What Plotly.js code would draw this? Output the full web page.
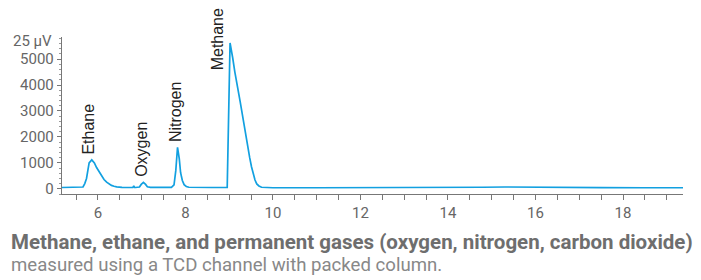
<!DOCTYPE html>
<html>
<head>
<meta charset="utf-8">
<script src="https://cdn.plot.ly/plotly-3.0.1.min.js"></script>
<style>html,body{margin:0;padding:0;background:#fff;}#chart{width:701px;height:280px;}</style>
</head>
<body>
<div id="chart"></div>
<script>
// Retention time (min)
const timeMin = [5.18, 5.60, 5.66, 5.70, 5.74, 5.77, 5.80, 5.86, 5.92, 5.97, 6.03, 6.08, 6.14, 6.20, 6.26, 6.31, 6.37, 6.43, 6.55, 6.70,
  6.80, 6.82, 6.84, 6.86, 6.95, 6.99, 7.04, 7.09, 7.13, 7.20, 7.50, 7.68, 7.74, 7.78, 7.82, 7.86, 7.89, 7.93, 7.97, 8.02,
  8.08, 8.30, 8.60, 8.955, 8.99, 9.02, 9.08, 9.13, 9.25, 9.36, 9.47, 9.51, 9.55, 9.59, 9.63, 9.68, 9.74, 9.85, 10.0, 11.0,
  12.0, 13.0, 14.0, 14.8, 15.3, 15.8, 16.5, 17.5, 18.5, 19.37];
// Detector signal (x 25 µV)
const signal = [50, 50, 70, 200, 400, 700, 1000, 1115, 1000, 820, 640, 490, 360, 255, 180, 130, 100, 75, 55, 50,
  50, 110, 50, 50, 70, 170, 250, 170, 80, 55, 50, 55, 150, 700, 1600, 1150, 620, 320, 160, 90,
  60, 50, 50, 50, 3000, 5620, 5050, 4500, 3370, 2215, 1190, 850, 550, 340, 190, 110, 60, 45, 40, 40,
  40, 40, 45, 60, 70, 60, 50, 45, 40, 40];
// Peak names and where their labels sit (data coordinates)
const peakNames = ["Ethane", "Oxygen", "Nitrogen", "Methane"];
const peakLabelTime = [5.79, 7.00, 7.76, 8.74];
const peakLabelSignal = [1250, 390, 1720, 4480];

const yTickVals = [0, 1000, 2000, 3000, 4000, 5000];
const unitLabel = "25 µV";
const captionTitle = "Methane, ethane, and permanent gases (oxygen, nitrogen, carbon dioxide)";
const captionSub = "measured using a TCD channel with packed column.";

const axisColor = "#777";
const tickFont = {family: "Roboto, sans-serif", size: 15, color: "#666"};

const annotations = peakNames.map((n, i) => ({
  x: peakLabelTime[i], y: peakLabelSignal[i], xref: "x", yref: "y",
  text: n, textangle: -90, showarrow: false, xanchor: "center", yanchor: "bottom",
  font: {family: "Liberation Sans, Arial, sans-serif", size: 16, color: "#222"}
}));
annotations.push({
  x: 0, xref: "paper", y: 5700, yref: "y", xanchor: "right", yanchor: "middle", xshift: -8,
  text: unitLabel, showarrow: false, font: tickFont
});
annotations.push({
  x: 0, xref: "paper", xshift: -53, y: 0, yref: "paper", yshift: -48, xanchor: "left", yanchor: "middle",
  text: captionTitle, showarrow: false,
  font: {family: "Roboto, sans-serif", size: 20.5, color: "#6e6e6e", weight: 700}
});
annotations.push({
  x: 0, xref: "paper", xshift: -53, y: 0, yref: "paper", yshift: -71, xanchor: "left", yanchor: "middle",
  text: captionSub, showarrow: false,
  font: {family: "Roboto, sans-serif", size: 18.6, color: "#888", weight: 400}
});

Plotly.newPlot("chart", [{
  x: timeMin, y: signal, type: "scatter", mode: "lines",
  line: {color: "#12a0e0", width: 1.7}, hoverinfo: "skip"
}], {
  width: 701, height: 280,
  margin: {l: 62, r: 18, t: 37, b: 86},
  paper_bgcolor: "#fff", plot_bgcolor: "#fff",
  showlegend: false,
  xaxis: {
    range: [5.18, 19.37], tickmode: "linear", tick0: 0, dtick: 2,
    ticks: "outside", ticklen: 5, tickcolor: axisColor, tickwidth: 1,
    minor: {dtick: 0.5, tick0: 0, ticks: "outside", ticklen: 5, tickcolor: axisColor, showgrid: false},
    showline: true, linecolor: axisColor, linewidth: 1.2, showgrid: false, zeroline: false,
    tickfont: tickFont
  },
  yaxis: {
    range: [-200, 5850], tickmode: "array", tickvals: yTickVals,
    ticks: "outside", ticklen: 4, tickcolor: axisColor,
    minor: {dtick: 200, tick0: 0, ticks: "outside", ticklen: 2, tickcolor: "#999", showgrid: false},
    showline: true, linecolor: axisColor, linewidth: 1.2, showgrid: false, zeroline: false,
    tickfont: tickFont
  },
  annotations: annotations
}, {staticPlot: true});
</script>
</body>
</html>
